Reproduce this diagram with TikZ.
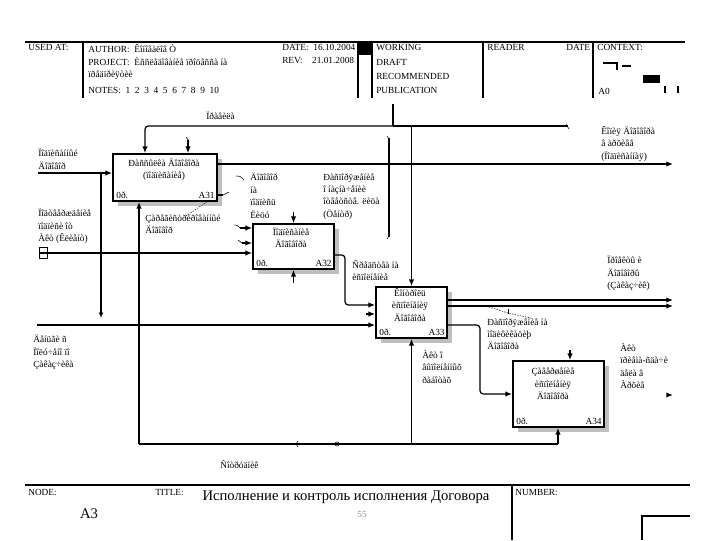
\documentclass[tikz,border=0pt]{standalone}
\usepackage{fontspec}
\setmainfont{Liberation Serif}
\usetikzlibrary{arrows.meta,calc}
\begin{document}
\begin{tikzpicture}[x=0.75pt,y=-0.75pt,
 ft/.style={font=\fontsize{7}{9.3}\selectfont},
 lbl/.style={ft, align=left, inner sep=0, anchor=north west},
 inner/.style={ft, align=center, inner sep=0},
 tag/.style={ft, inner sep=0},
 box/.style={draw, line width=1.3pt, fill=white, inner sep=0},
 shade/.style={fill=black!25},
 ln/.style={line width=0.9pt, rounded corners=2.5pt},
 arr/.style={ln, -{Latex[length=5pt,width=4pt]}},
 thinl/.style={line width=0.4pt},
 leader/.style={line width=0.4pt, dash pattern=on 1pt off 1pt},
 rule/.style={line width=0.8pt}]
\useasboundingbox (0,0) rectangle (720,540);

% ---------- header ----------
\draw[rule] (25,42) -- (685,42);
\foreach \xx in {83,358,372,483,593} \draw[rule] (\xx,42) -- (\xx,98);
\fill (358,42) rectangle (372,55);
\node[lbl] (usedat) at (28,44) {USED AT:};
\node[lbl] (author) at (88,44) {AUTHOR:\ \ Êîíîâàëîâ Ò};
\node[lbl] (date) at (282,44) {DATE:\ \ 16.10.2004};
\node[lbl] (project) at (88,57) {PROJECT:\ \ Èññëåäîâàíèå ïðîöåññà íà\\ïðåäïðèÿòèè};
\node[lbl] (rev) at (282,57) {REV:\ \ \ \ 21.01.2008};
\node[lbl] (notes) at (88,87) {NOTES:\ \ 1\ \ 2\ \ 3\ \ 4\ \ 5\ \ 6\ \ 7\ \ 8\ \ 9\ \ 10};
\node[lbl] (working) at (376,44) {WORKING};
\node[lbl] (draft) at (376,59) {DRAFT};
\node[lbl] (recom) at (376,73) {RECOMMENDED};
\node[lbl] (publ) at (376,87) {PUBLICATION};
\node[lbl] (reader) at (487,44) {READER};
\node[lbl] (rdate) at (566,44) {DATE};
\node[lbl] (context) at (597,44) {CONTEXT:};
\node[lbl] (a0) at (598,88) {A0};
\draw[rule] (603,63) -- (617,63) -- (617,70);
\draw[rule] (622,66) -- (631,66);
\fill (643,75) rectangle (660,83);
\draw[rule] (665,86) -- (665,93);
\draw[rule] (678,86) -- (678,93);

% ---------- shadows ----------
\fill[shade] (118,159) rectangle (222,206);
\fill[shade] (258,229) rectangle (339,274);
\fill[shade] (381,292) rectangle (452,343);
\fill[shade] (518,366) rectangle (609,432);

% ---------- boxes ----------
\node[box, minimum width=78pt, minimum height=35.25pt] (A31) at (165,177.5) {};
\node[box, minimum width=60.75pt, minimum height=33.75pt] (A32) at (293.5,246.5) {};
\node[box, minimum width=53.25pt, minimum height=38.25pt] (A33) at (411.5,312.5) {};
\node[box, minimum width=68.25pt, minimum height=49.5pt] (A34) at (558.5,394) {};

\node[inner] (t31) at (164,170) {Ðàññûëêà Äîãîâîðà\\(ïîäïèñàíèå)};
\node[inner] (t32) at (291,238) {Ïîäïèñàíèå\\Äîãîâîðà};
\node[inner] (t33) at (410,305) {Êîíòðîëü\\èñïîëíåíèÿ\\Äîãîâîðà};
\node[inner] (t34) at (553,384) {Çàâåðøåíèå\\èñïîëíåíèÿ\\Äîãîâîðà};
\foreach \b in {31,32,33,34}{
  \node[tag, anchor=south west] (c\b) at ($(A\b.south west)+(4,-3)$) {0ð.};
  \node[tag, anchor=south east] (n\b) at ($(A\b.south east)+(-3,-3)$) {A\b};
}

% ---------- controls ----------
\coordinate (ctlTop) at (393,104);
\coordinate (jc) at (393,126);
\draw[ln] (ctlTop) -- (jc);
\draw[arr] (jc) -- (145,126) -- (145,126 |- A31.north);
\draw[ln] (jc) -- (568,126);
\draw[thinl] (566,124) -- (569,129);
\draw[arr] (A33.north |- jc) -- (A33.north);
\draw[arr] (188,140) -- (188,140 |- A31.north);
\draw[thinl] (186,137) -- (189,141);
\draw[arr] (A32.north |- 0,212) -- (A32.north);
\draw[arr] (570,350) -- (570,350 |- A34.north);
\draw[ln] (389,138) -- (389,237);
\draw[thinl] (387,136) -- (389,139);
\draw[thinl] (387,239) -- (389,236);

% ---------- inputs ----------
\coordinate (i1) at (38,173);
\draw[arr] (i1) -- (i1 -| A31.west);
\draw[ln] (101,173) -- (101,315);
\draw[thinl] (99,312) -- (101,317) -- (103,312);
\coordinate (i2) at (39,253);
\draw[thinl] (39,247) rectangle (47,258);
\draw[arr] (i2) -- (i2 -| A32.west);
\draw[arr] (240,228) -- (A32.west |- 0,228);
\draw[thinl] (234,225) .. controls (237,225) .. (240,228);
\draw[arr] (242,243) -- (A32.west |- 0,243);
\draw[thinl] (238,240) -- (242,243);
\coordinate (i3) at (37,325);
\draw[arr] (i3) -- (i3 -| A33.west);
\draw[arr] (A32.east |- 0,255) -- (345,255) -- (345,305) -- (A33.west |- 0,305);
\draw[arr] (366,314) -- (A33.west |- 0,314);

% ---------- outputs ----------
\coordinate (o1) at (673,164);
\draw[arr] (A31.east |- o1) -- (o1);
\draw[ln] (A31.east |- 0,195) -- (223,195);
\draw[thinl] (223,195) -- (229,192);
\coordinate (o2) at (673,300);
\coordinate (o3) at (673,306);
\draw[arr] (A33.east |- o2) -- (o2);
\draw[arr] (A33.east |- o3) -- (o3);
\draw[arr] (A33.east |- 0,325) -- (480,325) -- (480,394) -- (A34.west);
\draw[arr] (667,395) -- (673,395);

% ---------- mechanisms ----------
\coordinate (mL) at (139,444);
\draw[arr] (mL) -- (mL |- A31.south);
\draw[ln] (mL) -- (558,444);
\draw[arr] (558,444) -- (558,444 |- A34.south);
\draw[arr] (A33.south |- mL) -- (A33.south);
\draw[arr] (A32.south |- 0,283) -- (A32.south);
\draw[thinl] (298,441) -- (296,444) -- (298,447);
\draw[thinl] (337,444) circle (2);

% ---------- leaders ----------
\draw[leader] (186,216) -- (208,201);
\draw[leader] (489,307) -- (508,313) -- (531,318);
\draw[thinl] (508,309) -- (508,314);

% ---------- labels ----------
\node[lbl] (lrules) at (206,112) {Ïðàâèëà};
\node[lbl] (lin1) at (38,149) {Ïîäïèñàííûé\\Äîãîâîð};
\node[lbl] (lin2) at (38,209) {Ïîäòâåðæäåíèå\\ïîäïèñè îò\\Àêò (Êëèåíò)};
\node[lbl] (lin3) at (33,335) {Äåíüãè ñ\\Ïîëó÷åíî ïî\\Çàêàç÷èêà};
\node[lbl] (lreg) at (145,214) {Çàðåãèñòðèðîâàííûé\\Äîãîâîð};
\node[lbl] (lsign) at (250,173) {Äîãîâîð\\íà\\ïîäïèñü\\Ëèöó};
\node[lbl] (lorder) at (323,173) {Ðàñïîðÿæåíèå\\î íàçíà÷åíèè\\îòâåòñòâ. ëèöà\\(Öåíòð)};
\node[lbl] (lfunds) at (352,260) {Ñðåäñòâà íà\\èñïîëíåíèå};
\node[lbl] (lcopy) at (601,126) {Êîïèÿ Äîãîâîðà\\â àðõèâå\\(Ïîäïèñàííàÿ)};
\node[lbl] (lproj) at (607,256) {Ïðîåêòû è\\Äîãîâîðû\\(Çàêàç÷èê)};
\node[lbl] (lmod) at (487,318) {Ðàñïîðÿæåíèå íà\\ìîäèôèêàöèþ\\Äîãîâîðà};
\node[lbl] (lact) at (422,350) {Àêò î\\âûïîëíåííûõ\\ðàáîòàõ};
\node[lbl] (lact2) at (620,343) {Àêò\\ïðèåìà-ñäà÷è\\äåëà â\\Àðõèâ};
\node[lbl] (lstaff) at (220,460) {Ñîòðóäíèê};
\draw[thinl] (236,176) .. controls (240,176) .. (244,180);

% ---------- footer ----------
\draw[rule] (25,485) -- (690,485);
\draw[rule] (512,485) -- (512,540);
\draw[rule] (642,540) -- (642,516) -- (690,516);
\node[lbl] (node) at (28,489) {NODE:};
\node[lbl] (title) at (155,489) {TITLE:};
\node[lbl] (number) at (515,489) {NUMBER:};
\node[inner sep=0, font=\fontsize{11}{13}\selectfont] (ttl) at (346,497) {Исполнение и контроль исполнения Договора};
\node[inner sep=0, font=\fontsize{11}{13}\selectfont] (a3) at (89,514) {A3};
\node[inner sep=0, font=\fontsize{7}{8}\selectfont, text=black!45] (pg) at (362,514) {55};
\end{tikzpicture}
\end{document}
